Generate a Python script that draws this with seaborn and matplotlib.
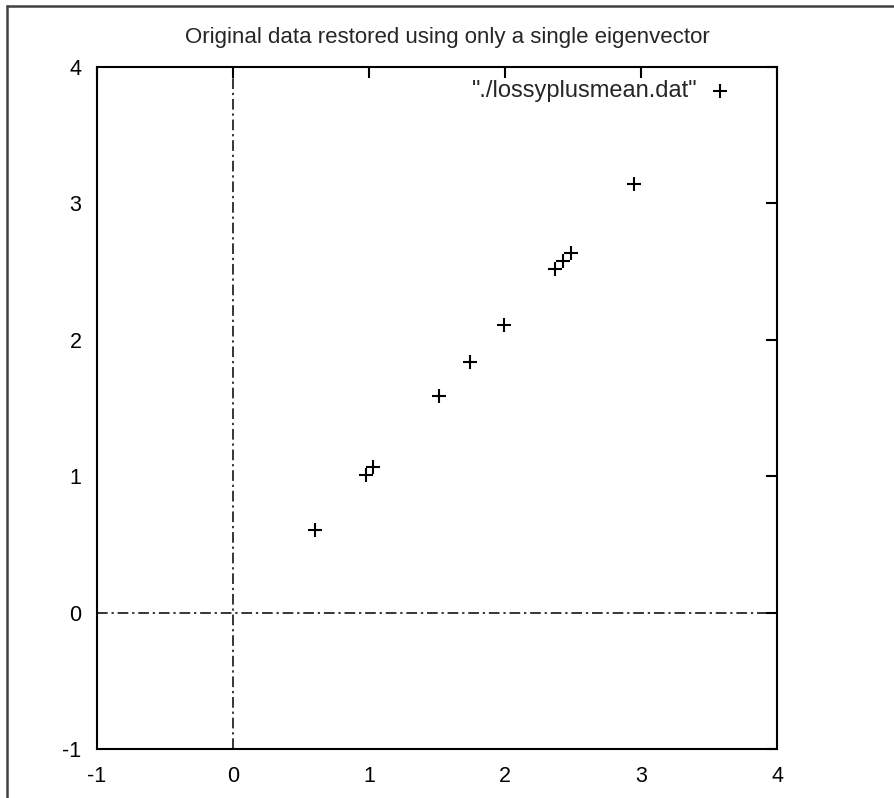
import matplotlib
matplotlib.use("Agg")
import matplotlib.pyplot as plt
import seaborn as sns
import pandas as pd
from matplotlib.lines import Line2D

# data
x_vals = [2.371, 0.605, 2.483, 1.996, 2.946, 2.429, 1.743, 1.034, 1.513, 0.980]
y_vals = [2.519, 0.603, 2.639, 2.112, 3.142, 2.581, 1.837, 1.069, 1.588, 1.010]
ticks = [-1, 0, 1, 2, 3, 4]
title = "Original data restored using only a single eigenvector"
series_label = '"./lossyplusmean.dat"'

df = pd.DataFrame({"x": x_vals, "y": y_vals})

sns.set_theme(style="white")
plt.rcParams['font.family'] = ['Liberation Sans', 'DejaVu Sans']

fig = plt.figure(figsize=(8.94, 7.98), dpi=100)
ax = fig.add_axes([96.7/894, 1-749/798, (777-96.7)/894, (749-67)/798])

# zero axes
dash = (7, 2.5, 1.5, 2.5)
ax.axhline(0, color="black", lw=1.1, dashes=dash, zorder=1)
ax.axvline(0, color="black", lw=1.1, dashes=dash, zorder=1)

sns.scatterplot(data=df, x="x", y="y", marker="+", s=110, color="black",
                linewidth=1.5, ax=ax, label=series_label, zorder=3)

ax.set_xlim(-1, 4)
ax.set_ylim(-1, 4)
ax.set_xticks(ticks)
ax.set_yticks(ticks)
ax.set_xticklabels([str(t) for t in ticks])
ax.set_yticklabels([str(t) for t in ticks])
ax.set_xlabel("")
ax.set_ylabel("")
for s in ax.spines.values():
    s.set_visible(True)
    s.set_color("black")
    s.set_linewidth(1.5)
ax.tick_params(axis="both", which="both", direction="in", length=8, width=1.5,
               top=True, right=True, labelsize=15.5, colors="black", pad=11)
ax.tick_params(axis="x", pad=12)

leg = ax.legend(loc="upper right", bbox_to_anchor=(0.965, 1.012), frameon=False,
                markerfirst=False, fontsize=17, handletextpad=0.45,
                handlelength=1.0)

fig.text(0.5, 1-37/798, title, ha="center", va="center", fontsize=16)

# outer gray frame (left and top visible)
fig.add_artist(Line2D([7/894, 7/894], [0, 1-6/798], color="#404040", lw=1.8,
                      transform=fig.transFigure))
fig.add_artist(Line2D([7/894, 1], [1-6/798, 1-6/798], color="#404040", lw=1.8,
                      transform=fig.transFigure))

fig.savefig("out.png", dpi=100, facecolor="white")
